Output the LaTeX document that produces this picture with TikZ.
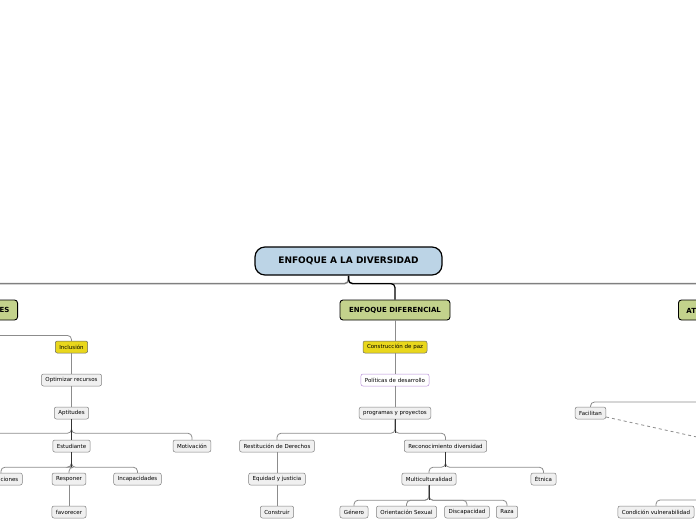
\documentclass[tikz,border=0pt]{standalone}
\usepackage{fontspec}
\setmainfont{DejaVu Sans}

\definecolor{rootblue}{HTML}{BCD4E6}
\definecolor{topicgreen}{HTML}{C3D28C}
\definecolor{ideayellow}{HTML}{E9D71C}
\definecolor{linegray}{HTML}{8C8C8C}
\definecolor{boxgray}{HTML}{F0F0F0}
\definecolor{lilac}{HTML}{B890D8}

\tikzset{
	topic/.style={draw=black, line width=0.9pt, fill=topicgreen, rounded corners=3pt, minimum height=20pt, inner xsep=8pt, font=\fontsize{7}{8}\selectfont\bfseries},
	leaf/.style={draw=black!50, line width=0.5pt, fill=boxgray, rounded corners=2pt, minimum height=12pt, inner xsep=4pt, inner ysep=0pt, font=\fontsize{5.5}{6}\selectfont},
	idea/.style={leaf, fill=ideayellow, draw=black!60},
	link/.style={draw=linegray, line width=0.8pt, rounded corners=4pt},
	stem/.style={draw=black!80, line width=1pt},
}

\begin{document}
\begin{tikzpicture}[x=1pt, y=-1pt]
	\useasboundingbox (0,0) rectangle (696,520);
	\clip (0,0) rectangle (696,520);

	% centro y ramas principales
	\node[draw, line width=1.2pt, fill=rootblue, rounded corners=10pt, minimum width=187pt, minimum height=28pt, font=\fontsize{9}{10}\selectfont\bfseries] (root) at (348.5,261) {ENFOQUE A LA DIVERSIDAD};
	\node[topic, minimum width=110pt] (dif) at (395,310) {ENFOQUE DIFERENCIAL};
	\node[topic, anchor=east] (nee) at (18,310) {NECESIDADES EDUCATIVAS ESPECIALES};
	\node[topic, anchor=west] (aten) at (678,310) {ATENCIÓN EDUCATIVA};

	\draw[draw=gray, line width=1.5pt, rounded corners=4pt] (root.south) -- ++(0,8) -| (nee.north);
	\draw[draw=gray, line width=1.5pt, rounded corners=4pt] (root.south) -- ++(0,8) -| (aten.north);
	\draw[line width=1.2pt, rounded corners=4pt] (root.south) -- ++(0,8) -| (dif.north);

	% rama izquierda
	\node[idea] (inc) at (71.5,347) {Inclusión};
	\node[leaf] (opt) at (71.5,380) {Optimizar recursos};
	\node[leaf] (apt) at (71.5,413) {Aptitudes};
	\node[leaf] (est) at (71.5,446) {Estudiante};
	\node[leaf] (mot) at (192,446) {Motivación};
	\node[leaf, anchor=east] (lim) at (22.5,479) {Limitaciones};
	\node[leaf] (res) at (69,479) {Responer};
	\node[leaf] (inca) at (137.5,479) {Incapacidades};
	\node[leaf] (fav) at (69,512) {favorecer};
	\coordinate (aptleft) at (-40,440);

	\draw[link] (nee.south) -- ++(0,15) -| (inc.north);
	\draw[link] (inc) -- (opt);
	\draw[link] (opt) -- (apt);
	\draw[link] (apt.south) -- ++(0,14) -| (aptleft);
	\draw[link] (apt.south) -- ++(0,14) -| (mot.north);
	\draw[stem] (apt) -- (est);
	\draw[link] (est.south) -- ++(0,15) -| (lim.north);
	\draw[link] (est.south) -- ++(0,15) -| (res.north);
	\draw[link] (est.south) -- ++(0,15) -| (inca.north);
	\draw[stem] (est.south) -- ++(0,15);
	\draw[link] (res) -- (fav);

	% rama central
	\node[idea] (paz) at (395,347) {Construcción de paz};
	\node[leaf, draw=lilac, fill=white] (pol) at (395,380) {Políticas de desarrollo};
	\node[leaf] (prog) at (395,413) {programas y proyectos};
	\node[leaf] (rest) at (277,446) {Restitución de Derechos};
	\node[leaf] (reco) at (445.5,446) {Reconocimiento diversidad};
	\node[leaf] (equi) at (277,479) {Equidad y justicia};
	\node[leaf] (cons) at (277,512) {Construir};
	\node[leaf] (mult) at (429,479) {Multiculturalidad};
	\node[leaf] (etn) at (543.5,479) {Étnica};
	\node[leaf] (gen) at (354,512) {Género};
	\node[leaf] (ori) at (406.5,512) {Orientación Sexual};
	\node[leaf] (disc) at (467,512) {Discapacidad};
	\node[leaf] (raza) at (507,512) {Raza};

	\draw[link] (dif) -- (paz);
	\draw[link] (paz) -- (pol);
	\draw[link] (pol) -- (prog);
	\draw[link] (prog.south) -- ++(0,14) -| (rest.north);
	\draw[link] (prog.south) -- ++(0,14) -| (reco.north);
	\draw[stem] (prog.south) -- ++(0,14);
	\draw[link] (rest) -- (equi);
	\draw[link] (equi) -- (cons);
	\draw[link] (reco.south) -- ++(0,15) -| (mult.north);
	\draw[link] (reco.south) -- ++(0,15) -| (etn.north);
	\draw[stem] (reco.south) -- ++(0,15);
	\draw[link] (mult.south) -- ++(0,15) -| (gen.north);
	\draw[link] (mult.south) -- ++(0,15) -| (ori.north);
	\draw[link] (mult.south) -- ++(0,15) -| (disc.north);
	\draw[link] (mult.south) -- ++(0,15) -| (raza.north);
	\draw[stem] (mult.south) -- ++(0,15);

	% rama derecha
	\node[leaf] (fac) at (590.5,413) {Facilitan};
	\node[leaf] (cond) at (656,512) {Condición vulnerabilidad};
	\coordinate (facin) at (730,402);
	\coordinate (condin) at (730,500);
	\coordinate (facout) at (740,446.5);

	\draw[link] (facin) -| (fac.north);
	\draw[link] (condin) -| (cond.north);
	\draw[link, dash pattern=on 3pt off 3pt] ([yshift=-4pt]fac.east) -- (facout); % facilitan -> fuera
\end{tikzpicture}
\end{document}
